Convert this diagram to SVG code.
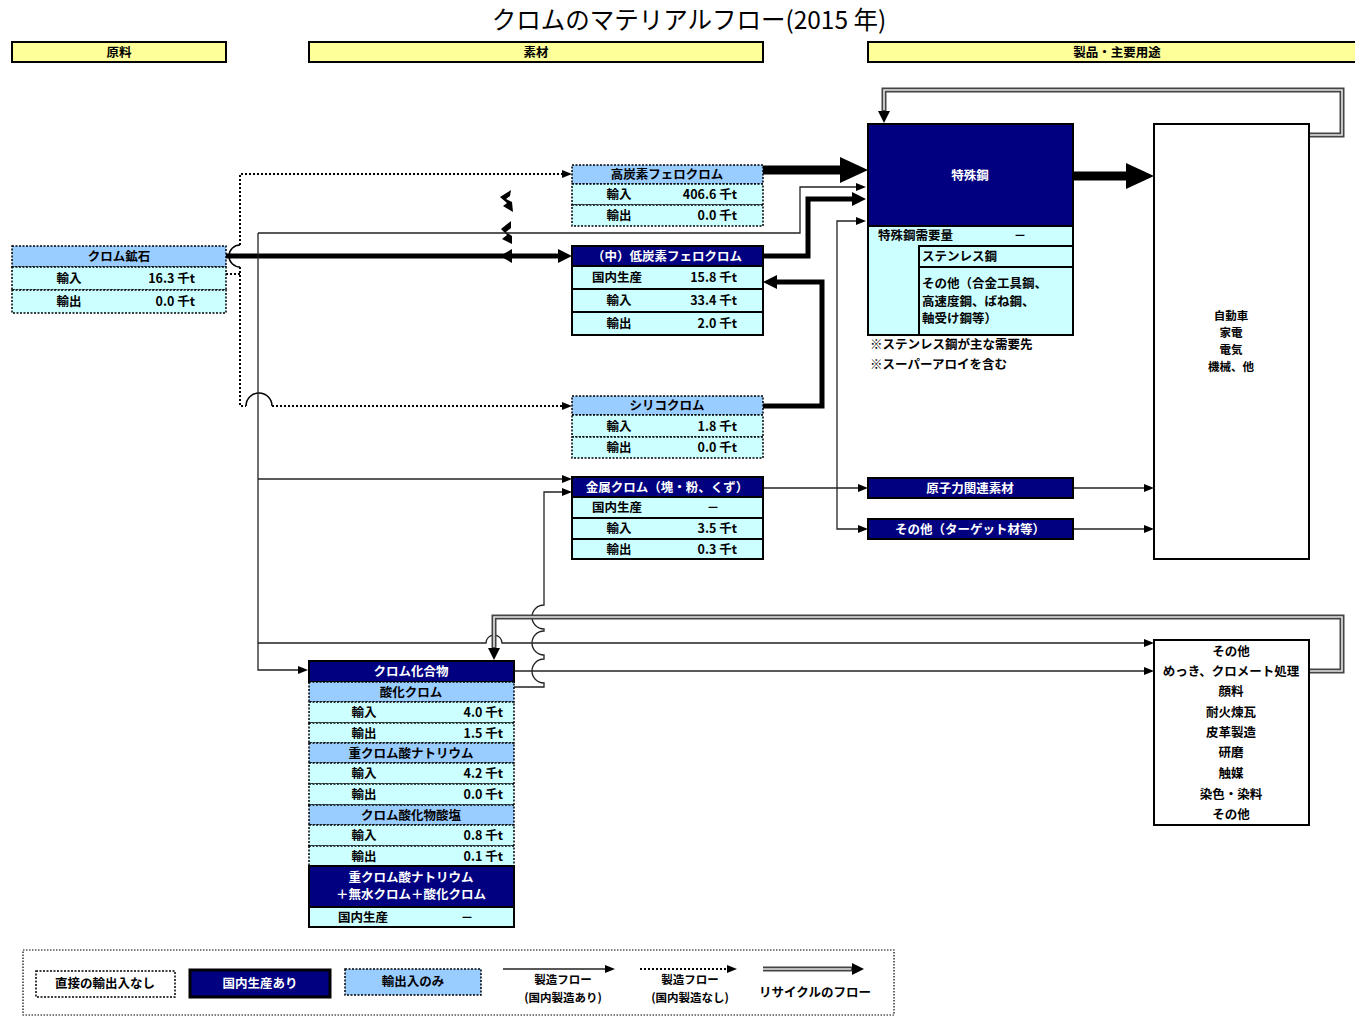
<svg xmlns="http://www.w3.org/2000/svg" width="1355" height="1016" viewBox="0 0 1355 1016">
<style>
text{font-family:"Noto Sans CJK JP","Noto Sans",sans-serif;font-weight:bold;font-size:12.5px;fill:#000}
.c{text-anchor:middle}
.e{text-anchor:end}
.w{fill:#fff}
.s{font-size:11.5px}
.ttl{font-weight:normal;font-size:24.5px}
.bar{fill:#ffff99;stroke:#000;stroke-width:2}
.nv{fill:#000080;stroke:#000;stroke-width:2}
.hs{fill:#99ccff;stroke:#000;stroke-width:2}
.cs{fill:#ccffff;stroke:#000;stroke-width:2}
.hd{fill:#99ccff;stroke:#000;stroke-width:1.5;stroke-dasharray:2 1.5}
.cd{fill:#ccffff;stroke:#000;stroke-width:1.5;stroke-dasharray:2 1.5}
.wb{fill:#fff;stroke:#000;stroke-width:2}
.thin{fill:none;stroke:#222;stroke-width:1.3}
.dotl{fill:none;stroke:#000;stroke-width:2;stroke-dasharray:2 2}
.thk{fill:none;stroke:#000;stroke-width:5}
.big{fill:none;stroke:#000;stroke-width:9}
.rec{fill:none;stroke:#444;stroke-width:5}
.reci{fill:none;stroke:#e6e6e6;stroke-width:1.6}
</style>
<defs>
<marker id="aT" markerUnits="userSpaceOnUse" markerWidth="10" markerHeight="8" refX="0" refY="4" orient="auto"><path d="M0,0 L10,4 L0,8 z" fill="#000"/></marker>
<marker id="aM" markerUnits="userSpaceOnUse" markerWidth="14" markerHeight="14" refX="0" refY="7" orient="auto"><path d="M0,0 L14,7 L0,14 z" fill="#000"/></marker>
<marker id="aB" markerUnits="userSpaceOnUse" markerWidth="28" markerHeight="26" refX="0" refY="13" orient="auto"><path d="M0,0 L28,13 L0,26 z" fill="#000"/></marker>
<marker id="aR" markerUnits="userSpaceOnUse" markerWidth="12" markerHeight="12" refX="0" refY="6" orient="auto"><path d="M0,0 L12,6 L0,12 z" fill="#000"/></marker>
</defs>
<rect width="1355" height="1016" fill="#fff"/>

<text class="c ttl" x="689" y="29">クロムのマテリアルフロー(2015 年)</text>

<g id="headers">
<rect class="bar" x="12" y="42" width="214" height="20"/><text class="c" x="119" y="57">原料</text>
<rect class="bar" x="309" y="42" width="454" height="20"/><text class="c" x="536" y="57">素材</text>
<rect class="bar" x="868" y="42" width="498" height="20"/><text class="c" x="1117" y="57">製品・主要用途</text>
</g>

<g id="connectors">
<path class="dotl" d="M240,245 L240,174 L562,174" marker-end="url(#aT)"/>
<path class="dotl" d="M226,274 L240,274"/>
<path class="dotl" d="M240,267 L240,406 L246,406"/>
<path class="dotl" d="M272,406 L562,406" marker-end="url(#aT)"/>
<path fill="none" stroke="#000" stroke-width="1.5" d="M240,245 A11,11 0 0 0 240,267"/>
<path fill="none" stroke="#000" stroke-width="1.5" d="M246,406 A13,13 0 0 1 272,406"/>
<path class="thk" d="M226,256 L558,256" marker-end="url(#aM)"/>
<path fill="#000" d="M500,197 L511,190 L510,196 L506,199 L512,202 L513,212 L503,206 L507,203 z"/>
<path fill="#000" d="M501,229 L511,221 L511,228 L506,232 L512,236 L512,244 L502,239 L507,235 z"/>
<path fill="#000" d="M500,256 L512,249 L512,263 z"/>
<path class="thin" d="M258,233 L800,233 L800,187 L856,187" marker-end="url(#aT)"/>
<path class="thin" d="M258,233 L258,670 L298,670" marker-end="url(#aT)"/>
<path class="thin" d="M258,479 L562,479" marker-end="url(#aT)"/>
<path class="thin" d="M258,643 L486,643 A8,8 0 0 1 502,643 L1144,643" marker-end="url(#aT)"/>
<path class="thin" d="M514,687 L544,687 L544,683 A12,12 0 0 1 544,659 L544,655 A12,12 0 0 1 544,631 L544,629 A12,12 0 0 1 544,605 L544,492 L562,492" marker-end="url(#aT)"/>
<path class="thin" d="M514,671 L1144,671" marker-end="url(#aT)"/>
<path class="thin" d="M763,488 L858,488" marker-end="url(#aT)"/>
<path class="thin" d="M837,488 L837,221 L856,221" marker-end="url(#aT)"/>
<path class="thin" d="M837,488 L837,529 L858,529" marker-end="url(#aT)"/>
<path class="thin" d="M1073,488 L1144,488" marker-end="url(#aT)"/>
<path class="thin" d="M1073,529 L1144,529" marker-end="url(#aT)"/>
<path class="big" d="M763,170 L840,170" marker-end="url(#aB)"/>
<path class="thk" d="M763,256 L808,256 L808,199 L852,199" marker-end="url(#aM)"/>
<path class="thk" d="M763,406 L822,406 L822,282 L777,282" marker-end="url(#aM)"/>
<path class="big" d="M1073,176 L1126,176" marker-end="url(#aB)"/>
<path class="rec" d="M1309,135 L1342,135 L1342,90 L884,90 L884,111" marker-end="url(#aR)"/>
<path class="reci" d="M1309,135 L1342,135 L1342,90 L884,90 L884,110"/>
<path class="rec" d="M1309,671 L1342,671 L1342,617 L494,617 L494,648" marker-end="url(#aR)"/>
<path class="reci" d="M1309,671 L1342,671 L1342,617 L494,617 L494,647"/>
</g>

<g id="ore">
<rect class="hd" x="12" y="246" width="214" height="21"/>
<rect class="cd" x="12" y="267" width="214" height="23"/>
<rect class="cd" x="12" y="290" width="214" height="23"/>
<text class="c" x="119" y="261">クロム鉱石</text>
<text class="c" x="69" y="283">輸入</text><text class="e" x="195" y="283">16.3 千t</text>
<text class="c" x="69" y="306">輸出</text><text class="e" x="195" y="306">0.0 千t</text>
</g>

<g id="highC">
<rect class="hd" x="572" y="165" width="191" height="19"/>
<rect class="cd" x="572" y="184" width="191" height="21"/>
<rect class="cd" x="572" y="205" width="191" height="21"/>
<text class="c" x="667" y="179">高炭素フェロクロム</text>
<text class="c" x="619" y="199">輸入</text><text class="e" x="737" y="199">406.6 千t</text>
<text class="c" x="619" y="220">輸出</text><text class="e" x="737" y="220">0.0 千t</text>
</g>

<g id="lowC">
<rect class="nv" x="572" y="246" width="191" height="20"/>
<rect class="cs" x="572" y="266" width="191" height="23"/>
<rect class="cs" x="572" y="289" width="191" height="23"/>
<rect class="cs" x="572" y="312" width="191" height="23"/>
<text class="c w" x="667" y="261">（中）低炭素フェロクロム</text>
<text x="592" y="282">国内生産</text><text class="e" x="737" y="282">15.8 千t</text>
<text class="c" x="619" y="305">輸入</text><text class="e" x="737" y="305">33.4 千t</text>
<text class="c" x="619" y="328">輸出</text><text class="e" x="737" y="328">2.0 千t</text>
</g>

<g id="silico">
<rect class="hd" x="572" y="396" width="191" height="19"/>
<rect class="cd" x="572" y="415" width="191" height="22"/>
<rect class="cd" x="572" y="437" width="191" height="21"/>
<text class="c" x="667" y="410">シリコクロム</text>
<text class="c" x="619" y="431">輸入</text><text class="e" x="737" y="431">1.8 千t</text>
<text class="c" x="619" y="452">輸出</text><text class="e" x="737" y="452">0.0 千t</text>
</g>

<g id="metal">
<rect class="nv" x="572" y="477" width="191" height="20"/>
<rect class="cs" x="572" y="497" width="191" height="21"/>
<rect class="cs" x="572" y="518" width="191" height="21"/>
<rect class="cs" x="572" y="539" width="191" height="20"/>
<text class="c w" x="667" y="492">金属クロム（塊・粉、くず）</text>
<text x="592" y="512">国内生産</text><text class="c" x="713" y="512">－</text>
<text class="c" x="619" y="533">輸入</text><text class="e" x="737" y="533">3.5 千t</text>
<text class="c" x="619" y="554">輸出</text><text class="e" x="737" y="554">0.3 千t</text>
</g>

<g id="special">
<rect class="nv" x="868" y="124" width="205" height="102"/>
<rect class="cs" x="868" y="226" width="205" height="109"/>
<rect class="cs" x="919" y="246" width="154" height="21"/>
<rect class="cs" x="919" y="267" width="154" height="68"/>
<text class="c w" x="970" y="180">特殊鋼</text>
<text x="878" y="240">特殊鋼需要量</text><text class="c" x="1020" y="240">－</text>
<text x="922" y="261">ステンレス鋼</text>
<text x="922" y="288">その他（合金工具鋼、</text>
<text x="922" y="306">高速度鋼、ばね鋼、</text>
<text x="922" y="323">軸受け鋼等）</text>
<text x="870" y="349">※ステンレス鋼が主な需要先</text>
<text x="870" y="369">※スーパーアロイを含む</text>
</g>

<g id="products1">
<rect class="wb" x="1154" y="124" width="155" height="435"/>
<text class="c s" x="1231" y="320">自動車</text>
<text class="c s" x="1231" y="337">家電</text>
<text class="c s" x="1231" y="354">電気</text>
<text class="c s" x="1231" y="371">機械、他</text>
</g>

<g id="nuclear">
<rect class="nv" x="868" y="478" width="205" height="20"/>
<text class="c w" x="970" y="493">原子力関連素材</text>
</g>
<g id="target">
<rect class="nv" x="868" y="519" width="205" height="20"/>
<text class="c w" x="970" y="534">その他（ターゲット材等）</text>
</g>

<g id="compounds">
<rect class="nv" x="309" y="661" width="205" height="21"/>
<rect class="hd" x="309" y="682" width="205" height="20"/>
<rect class="cd" x="309" y="702" width="205" height="21"/>
<rect class="cd" x="309" y="723" width="205" height="20"/>
<rect class="hd" x="309" y="743" width="205" height="20"/>
<rect class="cd" x="309" y="763" width="205" height="21"/>
<rect class="cd" x="309" y="784" width="205" height="21"/>
<rect class="hd" x="309" y="805" width="205" height="20"/>
<rect class="cd" x="309" y="825" width="205" height="21"/>
<rect class="cd" x="309" y="846" width="205" height="20"/>
<rect class="nv" x="309" y="866" width="205" height="41"/>
<rect class="cs" x="309" y="907" width="205" height="20"/>
<text class="c w" x="411" y="676">クロム化合物</text>
<text class="c" x="411" y="697">酸化クロム</text>
<text class="c" x="364" y="717">輸入</text><text class="e" x="503" y="717">4.0 千t</text>
<text class="c" x="364" y="738">輸出</text><text class="e" x="503" y="738">1.5 千t</text>
<text class="c" x="411" y="758">重クロム酸ナトリウム</text>
<text class="c" x="364" y="778">輸入</text><text class="e" x="503" y="778">4.2 千t</text>
<text class="c" x="364" y="799">輸出</text><text class="e" x="503" y="799">0.0 千t</text>
<text class="c" x="411" y="820">クロム酸化物酸塩</text>
<text class="c" x="364" y="840">輸入</text><text class="e" x="503" y="840">0.8 千t</text>
<text class="c" x="364" y="861">輸出</text><text class="e" x="503" y="861">0.1 千t</text>
<text class="c w" x="411" y="882">重クロム酸ナトリウム</text>
<text class="c w" x="411" y="899">＋無水クロム＋酸化クロム</text>
<text x="338" y="922">国内生産</text><text class="c" x="467" y="922">－</text>
</g>

<g id="products2">
<rect class="wb" x="1154" y="640" width="155" height="185"/>
<text class="c" x="1231" y="656">その他</text>
<text class="c" x="1231" y="676">めっき、クロメート処理</text>
<text class="c" x="1231" y="696">顔料</text>
<text class="c" x="1231" y="717">耐火煉瓦</text>
<text class="c" x="1231" y="737">皮革製造</text>
<text class="c" x="1231" y="757">研磨</text>
<text class="c" x="1231" y="778">触媒</text>
<text class="c" x="1231" y="799">染色・染料</text>
<text class="c" x="1231" y="819">その他</text>
</g>

<g id="legend">
<rect x="23" y="950" width="871" height="65" fill="none" stroke="#000" stroke-width="1.2" stroke-dasharray="1.5 1.5"/>
<rect x="36" y="971" width="139" height="26" fill="#fff" stroke="#000" stroke-width="1.5" stroke-dasharray="2 1.5"/>
<text class="c" x="105" y="988">直接の輸出入なし</text>
<rect x="190" y="970" width="140" height="27" fill="#000080" stroke="#000" stroke-width="3"/>
<text class="c w" x="260" y="988">国内生産あり</text>
<rect x="345" y="969" width="136" height="26" fill="#99ccff" stroke="#000" stroke-width="1.5" stroke-dasharray="2 1.5"/>
<text class="c" x="413" y="986">輸出入のみ</text>
<path class="thin" stroke-width="2" d="M503,969 L605,969" marker-end="url(#aT)"/>
<text class="c s" x="563" y="984">製造フロー</text>
<text class="c s" x="563" y="1002">(国内製造あり)</text>
<path class="dotl" stroke-width="1.5" d="M640,969 L727,969" marker-end="url(#aT)"/>
<text class="c s" x="690" y="984">製造フロー</text>
<text class="c s" x="690" y="1002">(国内製造なし)</text>
<path class="rec" d="M763,969 L852,969" marker-end="url(#aR)"/>
<path class="reci" d="M763,969 L851,969"/>
<text class="c" x="815" y="997">リサイクルのフロー</text>
</g>
</svg>
